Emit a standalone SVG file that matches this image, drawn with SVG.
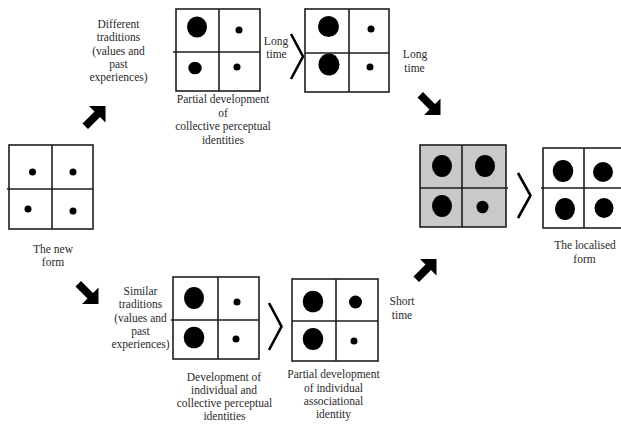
<svg xmlns="http://www.w3.org/2000/svg" xmlns:xlink="http://www.w3.org/1999/xlink" width="621" height="424" viewBox="0 0 621 424">
  <style>
    .cell { fill: #ffffff; stroke: #1e1e1e; stroke-width: 1.6; }
    .cell.shaded { fill: #c9c9c9; }
    .div { stroke: #1e1e1e; stroke-width: 1.6; fill: none; }
    .dot { fill: #000000; }
    .chev { fill: none; stroke: #000000; stroke-width: 2.6; stroke-linejoin: miter; }
    .lbl { font-family: 'Liberation Serif', 'DejaVu Serif', serif; font-size: 11.5px; fill: #2a2a2a; text-anchor: middle; }
    .arrow { fill: #000000; }
  </style>
  <defs>
    <!-- thick block arrow pointing up-right; mirrored for down-right -->
    <polygon id="blockArrow" points="24.5,0 24.5,16.5 19,11 7,23 1.5,17.5 13.5,5.5 8,0"/>
  </defs>

  <rect width="621" height="424" fill="#ffffff"/>

  <!-- The new form -->
  <g id="new-form">
    <rect class="cell" x="9" y="145" width="84" height="84"/>
    <path class="div" d="M52 145V229M7 189H93"/>
    <circle class="dot" cx="32.5" cy="172" r="3.5"/>
    <circle class="dot" cx="73" cy="172" r="3.5"/>
    <circle class="dot" cx="28" cy="209" r="3.5"/>
    <circle class="dot" cx="73" cy="211" r="3.5"/>
    <text class="lbl" x="53" y="253">The new</text>
    <text class="lbl" x="53" y="266">form</text>
  </g>

  <!-- Upper path -->
  <g id="different-traditions">
    <text class="lbl" x="118.5" y="27.5">Different</text>
    <text class="lbl" x="118.5" y="41">traditions</text>
    <text class="lbl" x="118.5" y="54.5">(values and</text>
    <text class="lbl" x="118.5" y="67.8">past</text>
    <text class="lbl" x="118.5" y="81">experiences)</text>
  </g>

  <g id="partial-collective">
    <rect class="cell" x="176" y="9" width="84" height="82"/>
    <path class="div" d="M219 9V91M173 52H260"/>
    <ellipse class="dot" cx="197" cy="27" rx="10" ry="10.5"/>
    <circle class="dot" cx="239" cy="30" r="3.5"/>
    <ellipse class="dot" cx="195" cy="68" rx="6.7" ry="6.3"/>
    <circle class="dot" cx="237" cy="67" r="3.5"/>
    <text class="lbl" x="223" y="103">Partial development</text>
    <text class="lbl" x="223" y="116.5">of</text>
    <text class="lbl" x="223" y="130">collective perceptual</text>
    <text class="lbl" x="223" y="143.5">identities</text>
  </g>

  <g id="top-developed">
    <rect class="cell" x="305" y="9" width="84" height="83"/>
    <path class="div" d="M349 9V92M305 53H389"/>
    <ellipse class="dot" cx="328.5" cy="26.5" rx="10.5" ry="10.5"/>
    <circle class="dot" cx="371" cy="29" r="3.5"/>
    <ellipse class="dot" cx="329" cy="64.5" rx="10.5" ry="11"/>
    <circle class="dot" cx="370" cy="67" r="3.5"/>
  </g>

  <!-- Lower path -->
  <g id="similar-traditions">
    <text class="lbl" x="140.5" y="295">Similar</text>
    <text class="lbl" x="140.5" y="308.3">traditions</text>
    <text class="lbl" x="140.5" y="321.6">(values and</text>
    <text class="lbl" x="140.5" y="335">past</text>
    <text class="lbl" x="140.5" y="348.3">experiences)</text>
  </g>

  <g id="individual-collective">
    <rect class="cell" x="173" y="277" width="86" height="82"/>
    <path class="div" d="M218 277V359M171 320H259"/>
    <ellipse class="dot" cx="194" cy="298" rx="10" ry="11"/>
    <circle class="dot" cx="237" cy="302" r="3.5"/>
    <ellipse class="dot" cx="194" cy="337.5" rx="10.3" ry="10.8"/>
    <circle class="dot" cx="236" cy="339" r="3.5"/>
    <text class="lbl" x="224" y="381">Development of</text>
    <text class="lbl" x="224" y="394">individual and</text>
    <text class="lbl" x="224.5" y="407">collective perceptual</text>
    <text class="lbl" x="224.5" y="420">identities</text>
  </g>

  <g id="individual-associational">
    <rect class="cell" x="292" y="279" width="86" height="82"/>
    <path class="div" d="M336 279V361M292 321H378"/>
    <ellipse class="dot" cx="313" cy="301.5" rx="10.3" ry="10.8"/>
    <ellipse class="dot" cx="355.5" cy="302" rx="6.5" ry="6.5"/>
    <ellipse class="dot" cx="313" cy="339" rx="10.3" ry="11"/>
    <circle class="dot" cx="354" cy="341" r="3.5"/>
    <text class="lbl" x="333.5" y="378">Partial development</text>
    <text class="lbl" x="333.5" y="391.5">of individual</text>
    <text class="lbl" x="333.5" y="405">associational</text>
    <text class="lbl" x="333.5" y="418">identity</text>
  </g>

  <!-- Convergence -->
  <g id="combined">
    <rect class="cell shaded" x="420" y="145" width="86" height="82"/>
    <path class="div" d="M462 145V227M420 188H508"/>
    <ellipse class="dot" cx="442" cy="166" rx="10" ry="11"/>
    <ellipse class="dot" cx="485" cy="166" rx="10" ry="11"/>
    <ellipse class="dot" cx="442" cy="206" rx="10" ry="11"/>
    <ellipse class="dot" cx="482.5" cy="207" rx="6" ry="6.3"/>
  </g>

  <g id="localised-form">
    <rect class="cell" x="543" y="148" width="86" height="80"/>
    <path class="div" d="M584 148V228M541 188H629"/>
    <ellipse class="dot" cx="563" cy="171" rx="10.3" ry="11"/>
    <ellipse class="dot" cx="603" cy="172" rx="10" ry="10"/>
    <ellipse class="dot" cx="565" cy="209" rx="10" ry="11"/>
    <ellipse class="dot" cx="604" cy="208" rx="9.5" ry="10"/>
    <text class="lbl" x="585" y="249">The localised</text>
    <text class="lbl" x="584.5" y="262.5">form</text>
  </g>

  <!-- Connectors: block arrows, chevrons and time labels -->
  <g id="connectors">
    <use xlink:href="#blockArrow" class="arrow" transform="translate(81,106)"/>
    <use xlink:href="#blockArrow" class="arrow" transform="translate(416,115) scale(1,-1)"/>
    <use xlink:href="#blockArrow" class="arrow" transform="translate(74,304) scale(1,-1)"/>
    <use xlink:href="#blockArrow" class="arrow" transform="translate(412,259)"/>

    <polyline class="chev" points="291,34 303,56.5 291,79"/>
    <polyline class="chev" points="269,303 281.5,326.5 269,350"/>
    <polyline class="chev" points="518,173 530.5,195.5 518,218"/>

    <text class="lbl" x="276" y="45">Long</text>
    <text class="lbl" x="276.5" y="57.5">time</text>
    <text class="lbl" x="415" y="58">Long</text>
    <text class="lbl" x="414.5" y="72">time</text>
    <text class="lbl" x="402" y="305">Short</text>
    <text class="lbl" x="402" y="318.5">time</text>
  </g>
</svg>
